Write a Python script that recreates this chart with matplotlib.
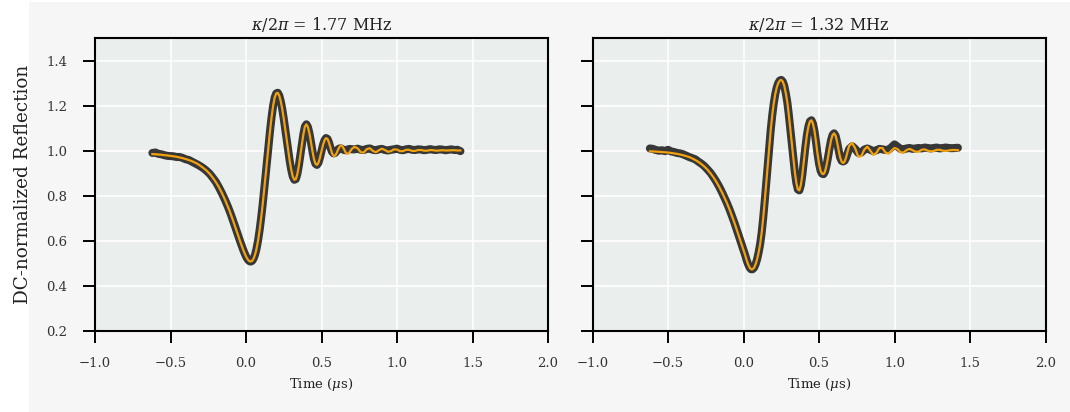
import numpy as np
import matplotlib
matplotlib.use("Agg")
import matplotlib.pyplot as plt
from matplotlib.patches import Rectangle

# Sample times (us): coarse before the dip, fine through the ringing, coarse in the tail
t_pre = np.round(np.arange(-0.62, -0.119, 0.02), 2)
t_mid = np.round(np.arange(-0.11, 0.701, 0.01), 2)
t_post = np.round(np.arange(0.72, 1.421, 0.02), 2)
time_us = np.concatenate([t_pre, t_mid, t_post])

titles = [r"$\kappa/2\pi$ = 1.77 MHz", r"$\kappa/2\pi$ = 1.32 MHz"]

# ---- kappa/2pi = 1.77 MHz ----
data_a = [
    # pre
    0.990, 0.992, 0.986, 0.984, 0.980, 0.977, 0.976, 0.975, 0.972, 0.972,
    0.968, 0.962, 0.959, 0.952, 0.945, 0.938, 0.930, 0.921, 0.910, 0.897,
    0.880, 0.862, 0.838, 0.812, 0.783, 0.752,
    # mid
    0.735, 0.717, 0.698, 0.679, 0.659, 0.639, 0.619, 0.600, 0.581, 0.563,
    0.546, 0.531, 0.519, 0.511, 0.508, 0.511, 0.521, 0.539, 0.566, 0.602,
    0.647, 0.700, 0.759, 0.823, 0.891, 0.960, 1.029, 1.094, 1.152, 1.201,
    1.236, 1.254, 1.257, 1.245, 1.220, 1.185, 1.142, 1.094, 1.044, 0.996,
    0.952, 0.914, 0.885, 0.871, 0.874, 0.896, 0.934, 0.980, 1.028, 1.073,
    1.107, 1.117, 1.105, 1.077, 1.039, 0.998, 0.963, 0.942, 0.937, 0.947,
    0.970, 0.998, 1.026, 1.046, 1.056, 1.052, 1.035, 1.012, 0.995, 0.988,
    0.990, 0.998, 1.006, 1.010, 1.010, 1.006, 1.003, 1.002, 1.004, 1.007,
    1.008, 1.006,
    # post
    1.006, 1.009, 1.004, 1.003, 1.008, 1.010, 1.004, 1.002, 1.006, 1.008,
    1.003, 1.001, 1.004, 1.006, 1.009, 1.004, 1.002, 1.006, 1.008, 1.004,
    1.003, 1.006, 1.005, 1.002, 1.004, 1.007, 1.004, 1.003, 1.006, 1.005,
    1.002, 1.004, 1.006, 1.003, 1.004, 0.998,
]
fit_a = [
    # pre
    0.985, 0.984, 0.983, 0.982, 0.980, 0.979, 0.977, 0.975, 0.973, 0.970,
    0.967, 0.963, 0.959, 0.954, 0.948, 0.941, 0.932, 0.922, 0.911, 0.897,
    0.880, 0.861, 0.839, 0.813, 0.784, 0.752,
    # mid
    0.735, 0.717, 0.698, 0.679, 0.659, 0.639, 0.619, 0.600, 0.581, 0.563,
    0.546, 0.531, 0.519, 0.511, 0.508, 0.511, 0.521, 0.539, 0.566, 0.602,
    0.647, 0.700, 0.759, 0.823, 0.891, 0.960, 1.029, 1.094, 1.152, 1.201,
    1.236, 1.254, 1.257, 1.245, 1.220, 1.185, 1.142, 1.094, 1.044, 0.996,
    0.952, 0.914, 0.885, 0.871, 0.874, 0.896, 0.934, 0.980, 1.028, 1.073,
    1.107, 1.117, 1.105, 1.077, 1.039, 0.998, 0.963, 0.942, 0.937, 0.947,
    0.970, 0.998, 1.026, 1.046, 1.056, 1.052, 1.035, 1.011, 0.988, 0.977,
    0.978, 0.989, 1.005, 1.018, 1.023, 1.018, 1.005, 0.992, 0.986, 0.988,
    0.997, 1.008,
    # post
    1.017, 1.010, 0.993, 0.992, 1.007, 1.011, 0.999, 0.993, 1.002, 1.009,
    1.003, 0.995, 0.998, 1.006, 1.005, 0.998, 0.998, 1.004, 1.004, 0.999,
    0.999, 1.003, 1.003, 1.000, 1.000, 1.003, 1.002, 1.000, 1.001, 1.002,
    1.001, 1.001, 1.002, 1.002, 1.001, 1.001,
]

# ---- kappa/2pi = 1.32 MHz ----
data_b = [
    # pre
    1.010, 1.008, 1.003, 1.000, 1.002, 0.998, 1.004, 0.997, 0.994, 0.990,
    0.988, 0.984, 0.978, 0.972, 0.967, 0.962, 0.952, 0.943, 0.932, 0.918,
    0.903, 0.884, 0.863, 0.839, 0.812, 0.783,
    # mid
    0.768, 0.752, 0.735, 0.717, 0.699, 0.680, 0.660, 0.640, 0.620, 0.599,
    0.579, 0.559, 0.539, 0.516, 0.497, 0.482, 0.474, 0.474, 0.481, 0.496,
    0.518, 0.548, 0.585, 0.634, 0.698, 0.772, 0.852, 0.935, 1.016, 1.090,
    1.155, 1.208, 1.250, 1.280, 1.300, 1.311, 1.314, 1.307, 1.288, 1.255,
    1.216, 1.160, 1.096, 1.030, 0.964, 0.905, 0.857, 0.828, 0.824, 0.848,
    0.895, 0.955, 1.017, 1.070, 1.108, 1.130, 1.135, 1.120, 1.088, 1.040,
    0.987, 0.943, 0.912, 0.898, 0.896, 0.908, 0.935, 0.972, 1.012, 1.047,
    1.070, 1.077, 1.066, 1.038, 1.002, 0.970, 0.955, 0.952, 0.956, 0.970,
    0.990, 1.008,
    # post
    1.020, 1.008, 0.990, 0.992, 1.005, 1.010, 1.004, 0.998, 1.002, 1.008,
    1.006, 1.003, 1.004, 1.015, 1.028, 1.018, 1.008, 1.006, 1.010, 1.012,
    1.008, 1.010, 1.012, 1.010, 1.014, 1.012, 1.010, 1.012, 1.014, 1.010,
    1.012, 1.014, 1.012, 1.011, 1.012, 1.013,
]
fit_b = [
    # pre
    0.997, 0.997, 0.996, 0.995, 0.994, 0.993, 0.992, 0.990, 0.988, 0.986,
    0.983, 0.980, 0.976, 0.972, 0.966, 0.959, 0.951, 0.941, 0.930, 0.917,
    0.901, 0.883, 0.862, 0.838, 0.812, 0.783,
    # mid
    0.768, 0.752, 0.735, 0.717, 0.699, 0.680, 0.660, 0.640, 0.620, 0.599,
    0.579, 0.559, 0.539, 0.516, 0.497, 0.482, 0.474, 0.474, 0.481, 0.496,
    0.518, 0.548, 0.585, 0.634, 0.698, 0.772, 0.852, 0.935, 1.016, 1.090,
    1.155, 1.208, 1.250, 1.280, 1.300, 1.311, 1.314, 1.307, 1.288, 1.255,
    1.216, 1.160, 1.096, 1.030, 0.964, 0.905, 0.857, 0.828, 0.824, 0.848,
    0.895, 0.955, 1.017, 1.070, 1.108, 1.130, 1.135, 1.120, 1.088, 1.040,
    0.987, 0.943, 0.912, 0.898, 0.896, 0.908, 0.935, 0.972, 1.012, 1.047,
    1.070, 1.077, 1.066, 1.038, 1.002, 0.970, 0.951, 0.945, 0.952, 0.972,
    0.998, 1.022,
    # post
    1.034, 1.010, 0.973, 0.976, 1.005, 1.018, 1.000, 0.981, 0.990, 1.012,
    1.012, 0.992, 0.987, 1.000, 1.012, 1.007, 0.993, 0.992, 1.003, 1.008,
    1.002, 0.995, 0.996, 1.004, 1.006, 1.000, 0.997, 0.999, 1.004, 1.004,
    1.000, 0.999, 1.001, 1.003, 1.003, 1.002,
]

series = [(data_a, fit_a), (data_b, fit_b)]

x_ticks = [-1.0, -0.5, 0.0, 0.5, 1.0, 1.5, 2.0]
y_ticks = [0.2, 0.4, 0.6, 0.8, 1.0, 1.2, 1.4]

plt.rcParams["font.family"] = ["DejaVu Serif"]
plt.rcParams["mathtext.fontset"] = "dejavuserif"

fig = plt.figure(figsize=(10.70, 4.12), dpi=100, facecolor="white")
# light grey panel behind both plots, leaving a white strip on the left
fig.add_artist(Rectangle((29 / 1070, 0), 1 - 29 / 1070, 1 - 2 / 412,
                         transform=fig.transFigure, facecolor="#f6f6f6",
                         edgecolor="none", zorder=-10))

ax_w = 453 / 1070
ax_h = 293 / 412
ax_bottom = 1 - 331 / 412
axes = [
    fig.add_axes([95 / 1070, ax_bottom, ax_w, ax_h]),
    fig.add_axes([592.5 / 1070, ax_bottom, ax_w, ax_h]),
]

for i, ax in enumerate(axes):
    data, fit = series[i]
    ax.set_facecolor("#eaefed")
    ax.grid(True, color="white", linewidth=1.1)
    ax.set_axisbelow(True)
    ax.plot(time_us, data, color="#2d2d2d", linewidth=5.8, alpha=0.95,
            solid_capstyle="round", solid_joinstyle="round", zorder=2)
    ax.plot(time_us, fit, color="#f2a20c", linewidth=1.6,
            solid_joinstyle="round", zorder=3)
    ax.set_xlim(-1.0, 2.0)
    ax.set_ylim(0.2, 1.5)
    ax.set_xticks(x_ticks)
    ax.set_yticks(y_ticks)
    ax.tick_params(direction="out", length=8.8, width=1.4, color="black",
                   labelsize=9.5, labelcolor="#333333")
    ax.tick_params(axis="y", pad=11)
    ax.tick_params(axis="x", pad=10)
    for sp in ax.spines.values():
        sp.set_color("black")
        sp.set_linewidth(1.5)
    ax.set_title(titles[i], fontsize=11.5, color="#222222", pad=6)
    ax.set_xlabel(r"Time ($\mu$s)", fontsize=9.5, color="#222222", labelpad=4)

axes[0].set_ylabel("DC-normalized Reflection", fontsize=13.2, color="#222222",
                   labelpad=10)
axes[1].tick_params(labelleft=False)

fig.savefig("out.png", dpi=100, facecolor=fig.get_facecolor())
